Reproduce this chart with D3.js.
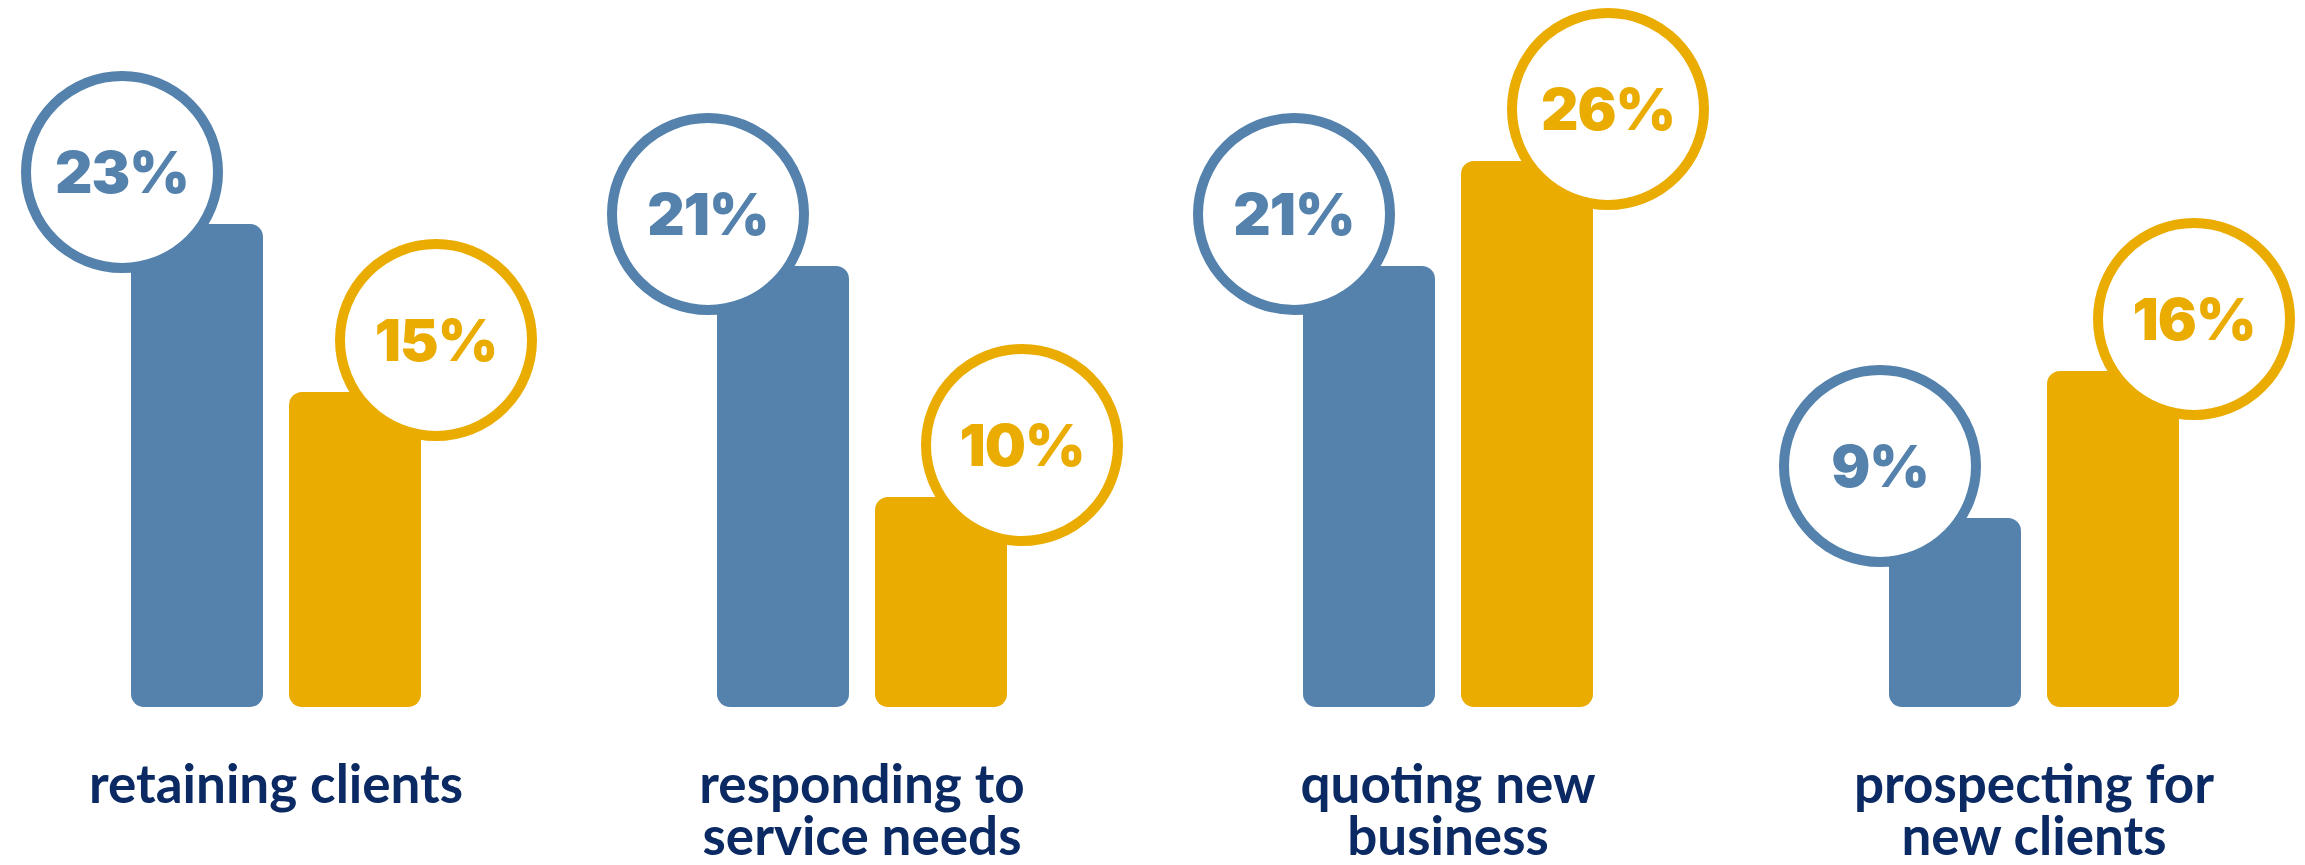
<!DOCTYPE html>
<html>
<head>
<meta charset="utf-8">
<script src="https://cdn.jsdelivr.net/npm/d3@7"></script>
<style>
  html, body { margin: 0; padding: 0; background: #ffffff; }
  svg { display: block; }
</style>
</head>
<body>
<div id="chart"></div>
<script>
// Activities chart: two series per category, value bubble on each bar

const categories = ['retaining clients', 'responding to service needs', 'quoting new business', 'prospecting for new clients'];
const categoryLines = [
  ['retaining clients'],
  ['responding to', 'service needs'],
  ['quoting new', 'business'],
  ['prospecting for', 'new clients']
];
const seriesNames = ['series A', 'series B'];
const seriesA = [23, 21, 21, 9];
const seriesB = [15, 10, 26, 16];
const seriesColors = ['#5482ac', '#eaac00'];

const width = 2305;
const height = 865;
const baseline = 707;

const svg = d3.select('#chart')
  .append('svg')
  .attr('width', width)
  .attr('height', height)
  .attr('viewBox', `0 0 ${width} ${height}`);

// Scales
const x0 = d3.scaleBand()
  .domain(categories)
  .range([-17, 2327])
  .padding(0);

const x1 = d3.scaleBand()
  .domain(seriesNames)
  .range([0, 290])
  .paddingInner(26 / 158)
  .paddingOuter(0);

const y = d3.scaleLinear()
  .domain([0, 26])
  .range([baseline, baseline - 546]);

const data = categories.map((c, i) => ({
  category: c,
  lines: categoryLines[i],
  values: [
    { series: seriesNames[0], value: seriesA[i], color: seriesColors[0], side: -1 },
    { series: seriesNames[1], value: seriesB[i], color: seriesColors[1], side: 1 }
  ]
}));

const groups = svg.selectAll('.group')
  .data(data)
  .enter()
  .append('g')
  .attr('class', 'group')
  .attr('transform', d => `translate(${x0(d.category) + x0.bandwidth() / 2 - 145},0)`);

// Bars
groups.selectAll('.bar')
  .data(d => d.values)
  .enter()
  .append('rect')
  .attr('class', 'bar')
  .attr('x', d => x1(d.series))
  .attr('y', d => y(d.value))
  .attr('width', x1.bandwidth())
  .attr('height', d => baseline - y(d.value))
  .attr('rx', 13)
  .attr('ry', 13)
  .attr('fill', d => d.color);

// Bubbles over the bar tops
const circleR = 96;
const bubbles = groups.selectAll('.bubble')
  .data(d => d.values)
  .enter()
  .append('g')
  .attr('class', 'bubble')
  .attr('transform', d => {
    const cx = d.side < 0 ? x1(d.series) - 9 : x1(d.series) + x1.bandwidth() + 15;
    const cy = y(d.value) - 52;
    return `translate(${cx},${cy})`;
  });

bubbles.append('circle')
  .attr('r', circleR)
  .attr('fill', '#ffffff')
  .attr('stroke', d => d.color)
  .attr('stroke-width', 10);

bubbles.append('text')
  .attr('text-anchor', 'middle')
  .attr('y', 21)
  .attr('font-family', 'Inter, sans-serif')
  .attr('font-weight', 900)
  .attr('font-size', 58)
  .attr('letter-spacing', -1)
  .attr('fill', d => d.color)
  .text(d => d.value + '%');

// Category labels
groups.append('text')
  .attr('class', 'label')
  .attr('text-anchor', 'middle')
  .attr('font-family', 'Lato, sans-serif')
  .attr('font-weight', 700)
  .attr('font-size', 53)
  .attr('fill', '#0b2a63')
  .selectAll('tspan')
  .data(d => d.lines)
  .enter()
  .append('tspan')
  .attr('x', 145)
  .attr('y', (d, i) => 803 + i * 52)
  .text(d => d);
</script>
</body>
</html>
